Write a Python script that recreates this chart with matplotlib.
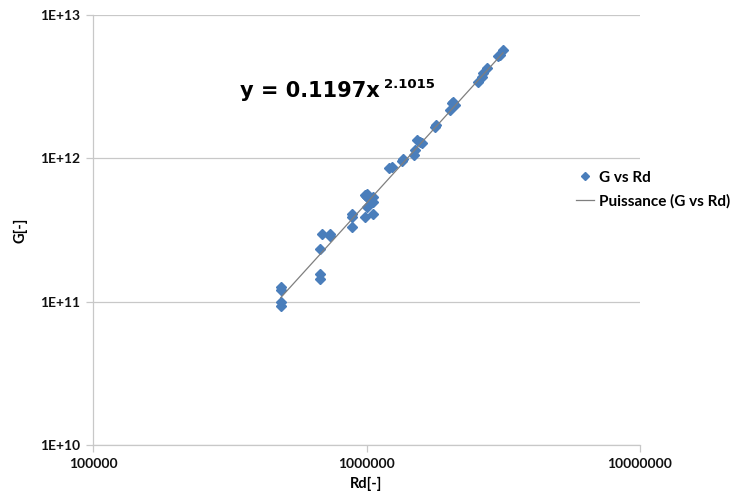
import numpy as np
import matplotlib
matplotlib.use("Agg")
import matplotlib.pyplot as plt
from matplotlib.ticker import FixedLocator, NullLocator

# Data (Rd, G)
rd = [486000, 486000, 486000, 486000,
      676000, 676000, 676000, 690000, 736000, 736000,
      885000, 885000, 885000,
      986000, 995000, 1005000, 1005000, 986000, 1057000, 1057000, 1057000, 1000000,
      1209000, 1240000, 1348000, 1360000,
      1492000, 1504000, 1530000, 1569000, 1596000,
      1780000, 1795000,
      2020000, 2054000, 2072000, 2107000,
      2557000, 2644000, 2667000, 2758000,
      3026000, 3077000, 3156000]
g = [1.26e11, 1.20e11, 0.99e11, 0.93e11,
     2.33e11, 1.56e11, 1.44e11, 2.96e11, 2.96e11, 2.87e11,
     4.08e11, 3.89e11, 3.32e11,
     5.55e11, 5.45e11, 5.37e11, 4.57e11, 3.89e11, 5.37e11, 4.96e11, 4.08e11, 5.60e11,
     8.55e11, 8.69e11, 9.58e11, 9.89e11,
     1.05e12, 1.14e12, 1.34e12, 1.30e12, 1.28e12,
     1.65e12, 1.71e12,
     2.17e12, 2.43e12, 2.47e12, 2.35e12,
     3.41e12, 3.69e12, 3.94e12, 4.27e12,
     5.17e12, 5.26e12, 5.70e12]

coef_a = 0.1197
coef_b = 2.1015

x_ticks = [1e5, 1e6, 1e7]
x_tick_labels = ["100000", "1000000", "10000000"]
y_ticks = [1e10, 1e11, 1e12, 1e13]
y_tick_labels = ["1E+10", "1E+11", "1E+12", "1E+13"]

plt.rcParams["font.family"] = ["Lato", "DejaVu Sans"]

fig = plt.figure(figsize=(7.3, 4.95), dpi=100)
ax = fig.add_axes([93/730, 50/495, (640-93)/730, (445-15)/495])
ax.set_xscale("log")
ax.set_yscale("log")
ax.set_xlim(1e5, 1e7)
ax.set_ylim(1e10, 1e13)

grid_c = "#C8C8C8"
ax.yaxis.set_major_locator(FixedLocator(y_ticks))
ax.xaxis.set_major_locator(FixedLocator(x_ticks))
ax.xaxis.set_minor_locator(NullLocator())
ax.yaxis.set_minor_locator(NullLocator())
ax.set_xticklabels(x_tick_labels)
ax.set_yticklabels(y_tick_labels)
ax.grid(axis="y", color=grid_c, linewidth=0.9)
ax.set_axisbelow(True)
for s in ["top", "right"]:
    ax.spines[s].set_visible(False)
for s in ["left", "bottom"]:
    ax.spines[s].set_color(grid_c)
    ax.spines[s].set_linewidth(0.9)
ax.tick_params(axis="both", which="major", length=5, color=grid_c, width=0.9,
               labelsize=10, labelcolor="#111111", pad=4)
for lab in ax.get_xticklabels() + ax.get_yticklabels():
    lab.set_fontweight("bold")

pts, = ax.plot(rd, g, linestyle="none", marker="D", markersize=5,
               color="#4A7EBB", markeredgecolor="#4A7EBB", label="G vs Rd")

xf = np.array([min(rd), max(rd)])
yf = coef_a * xf ** coef_b
ln, = ax.plot(xf, yf, color="#7F7F7F", linewidth=0.9, label="Puissance (G vs Rd)")

ax.set_xlabel("Rd[-]", fontsize=10.5, fontweight="bold", labelpad=5)
ax.set_ylabel("G[-]", fontsize=10.5, fontweight="bold", labelpad=9)

fig.text(240/730, 1 - 97/495, "y = 0.1197x", fontsize=15, fontweight="bold",
         family="DejaVu Sans", va="baseline", ha="left", color="black")
fig.text(384/730, 1 - 88/495, "2.1015", fontsize=9.5, fontweight="bold",
         family="DejaVu Sans", va="baseline", ha="left", color="black")

fig.legend(handles=[pts, ln], loc="upper left", bbox_to_anchor=(562/730, 1 - 157/495),
           frameon=False, handlelength=1.2, handletextpad=0.3, markerscale=0.8,
           labelspacing=0.6, prop={"weight": "bold", "size": 11})

fig.savefig("out.png", dpi=100)
